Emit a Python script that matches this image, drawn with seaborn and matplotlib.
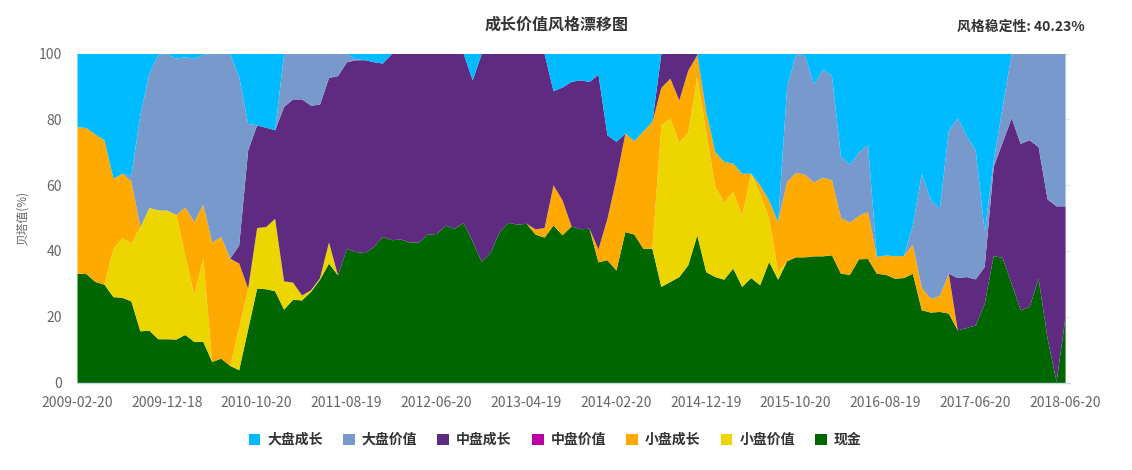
import matplotlib
matplotlib.use("Agg")
import matplotlib.pyplot as plt
import seaborn as sns
from matplotlib.patches import Patch

sns.set_theme(style="white")
plt.rcParams['font.family'] = ['Noto Sans CJK SC', 'DejaVu Sans']

# ---- data (percent, stacked bottom -> top) ----
tick_labels = ["2009-02-20", "2009-12-18", "2010-10-20", "2011-08-19", "2012-06-20",
               "2013-04-19", "2014-02-20", "2014-12-19", "2015-10-20", "2016-08-19",
               "2017-06-20", "2018-06-20"]

xianjin = [33.2, 33.1, 30.7, 29.9, 26.1, 25.9, 24.8, 15.7, 15.9, 13.3,
           13.3, 13.2, 14.6, 12.5, 12.5, 6.4, 7.4, 5.2, 3.9, 16.3,
           28.7, 28.5, 27.9, 22.3, 25.3, 25.1, 27.7, 31.4, 36.3, 32.7,
           40.8, 39.8, 39.5, 41.3, 44.4, 43.4, 43.6, 42.7, 42.7, 45.1,
           45.3, 47.8, 46.9, 48.6, 42.9, 36.8, 39.6, 45.9, 48.7, 48.1,
           48.4, 45.1, 44.2, 47.9, 44.9, 47.6, 46.7, 46.9, 36.7, 37.3,
           34.2, 45.9, 45.1, 40.8, 40.8, 29.2, 30.7, 32.2, 35.8, 44.9,
           33.7, 32.2, 31.4, 34.8, 29.2, 31.9, 29.7, 36.8, 31.4, 37.0,
           38.2, 38.2, 38.5, 38.5, 38.8, 33.2, 32.9, 37.6, 37.7, 33.2,
           32.9, 31.7, 31.9, 33.2, 22.1, 21.4, 21.6, 21.1, 16.0, 16.7,
           17.5, 24.1, 38.6, 38.0, 30.2, 22.1, 23.1, 31.7, 13.5, 0.3,
           20.1]

xiaopan_jiazhi = [0, 0, 0, 0, 14.7, 18.2, 17.6, 31.7, 37.3, 39.2,
                  39.1, 37.9, 24.2, 14.1, 25.3, 0, 0, 0, 13.0, 12.4,
                  18.4, 18.9, 22.0, 8.6, 5.2, 1.5, 0.5, 0.5, 6.4, 0,
                  0, 0, 0, 0, 0, 0, 0, 0, 0, 0,
                  0, 0, 0, 0, 0, 0, 0, 0, 0, 0,
                  0, 0, 0, 0, 0, 0, 0, 0, 0, 0,
                  0, 0, 0, 0, 0, 49.1, 49.6, 40.8, 40.3, 48.1,
                  42.6, 27.4, 23.4, 23.3, 21.8, 31.7, 27.8, 13.1, 2.3, 0,
                  0, 0, 0, 0, 0, 0, 0, 0, 0, 0,
                  0, 0, 0, 0, 0, 0, 0, 0, 0, 0,
                  0, 0, 0, 0, 0, 0, 0, 0, 0, 0,
                  0]

xiaopan_chengzhang = [44.6, 44.4, 44.8, 43.9, 21.3, 19.5, 18.9, 0, 0, 0,
                      0, 0, 14.5, 22.3, 16.4, 36.3, 37.0, 32.6, 19.4, 0,
                      0, 0, 0, 0, 0, 0, 0, 0, 0, 0,
                      0, 0, 0, 0, 0, 0, 0, 0, 0, 0,
                      0, 0, 0, 0, 0, 0, 0, 0, 0, 0,
                      0, 1.6, 2.9, 12.2, 10.6, 0, 0, 0, 3.9, 12.6,
                      27.9, 29.9, 28.4, 35.7, 38.5, 11.4, 12.2, 12.9, 18.9, 6.6,
                      6.1, 10.6, 12.4, 8.6, 12.6, 0, 2.6, 5.6, 15.2, 24.1,
                      25.7, 25.1, 22.4, 23.9, 22.8, 17.0, 15.8, 13.2, 14.3, 5.1,
                      5.9, 6.8, 6.7, 8.8, 6.8, 4.2, 4.8, 12.1, 0, 0,
                      0, 0, 0, 0, 0, 0, 0, 0, 0, 0,
                      0]

zhongpan_jiazhi = [0] * 111

zhongpan_chengzhang = [0, 0, 0, 0, 0, 0, 0, 0, 0, 0,
                       0, 0, 0, 0, 0, 0, 0, 0, 5.5, 42.0,
                       31.2, 30.2, 26.9, 53.0, 55.7, 59.6, 56.1, 52.7, 50.0, 60.6,
                       56.7, 58.3, 58.6, 56.2, 52.7, 56.6, 56.4, 57.3, 57.3, 54.9,
                       54.7, 52.2, 53.1, 51.4, 49.1, 63.2, 60.4, 54.1, 51.3, 51.9,
                       51.6, 53.3, 52.9, 28.6, 34.3, 43.9, 45.3, 44.6, 53.1, 25.4,
                       11.2, 0, 0, 0, 0, 10.3, 7.5, 14.1, 5.0, 0.4,
                       0, 0, 0, 0, 0, 0, 0, 0, 0, 0,
                       0, 0, 0, 0, 0, 0, 0, 0, 0, 0,
                       0, 0, 0, 0, 0, 0, 0, 0, 15.9, 15.5,
                       14.0, 11.2, 27.1, 35.1, 50.3, 50.6, 50.7, 40.0, 42.3, 53.4,
                       33.6]

dapan_jiazhi = [0, 0, 0, 0, 0, 0, 1.8, 34.0, 40.8, 47.3,
                47.6, 47.5, 45.7, 49.6, 45.6, 57.3, 55.6, 62.2, 51.2, 8.1,
                0, 0, 0, 16.1, 13.8, 13.8, 15.7, 15.4, 7.3, 6.7,
                2.5, 0.3, 0, 0, 0, 0, 0, 0, 0, 0,
                0, 0, 0, 0, 0, 0, 0, 0, 0, 0,
                0, 0, 0, 0, 0, 0, 0, 0, 0, 0,
                0, 0, 0, 0, 0, 0, 0, 0, 0, 0,
                0, 0, 0, 0, 0, 0, 0, 0, 0, 28.9,
                36.1, 36.3, 29.8, 32.9, 31.7, 18.5, 17.7, 19.2, 20.4, 0,
                0, 0, 0, 5.9, 34.7, 29.9, 26.6, 43.3, 48.6, 42.9,
                39.2, 10.6, 1.8, 10.9, 19.5, 27.3, 26.2, 28.3, 44.2, 46.3,
                46.3]

dapan_chengzhang = [22.2, 22.5, 24.5, 26.2, 37.9, 36.4, 36.9, 18.6, 6.0, 0.2,
                    0, 1.4, 1.0, 1.5, 0.2, 0, 0, 0, 7.0, 21.2,
                    21.7, 22.4, 23.2, 0, 0, 0, 0, 0, 0, 0,
                    0, 1.6, 1.9, 2.5, 2.9, 0, 0, 0, 0, 0,
                    0, 0, 0, 0, 8.0, 0, 0, 0, 0, 0,
                    0, 0, 0, 11.3, 10.2, 8.5, 8.0, 8.5, 6.3, 24.7,
                    26.7, 24.2, 26.5, 23.5, 20.7, 0, 0, 0, 0, 0,
                    17.6, 29.8, 32.8, 33.3, 36.4, 36.4, 39.9, 44.5, 51.1, 10.0,
                    0, 0.4, 9.3, 4.7, 6.7, 31.3, 33.6, 30.0, 27.6, 61.7,
                    61.2, 61.5, 61.4, 52.1, 36.4, 44.5, 47.0, 23.5, 19.5, 24.9,
                    29.3, 54.1, 32.5, 16.0, 0, 0, 0, 0, 0, 0,
                    0]

legend_labels = ["大盘成长", "大盘价值", "中盘成长", "中盘价值", "小盘成长", "小盘价值", "现金"]
legend_colors = ["#00BBFF", "#7799CC", "#5F2B80", "#BB00AA", "#FFAA00", "#EDD500", "#006600"]

# ---- figure ----
fig = plt.figure(figsize=(11.32, 4.70), dpi=100)
W, H = 1132, 470
ax = fig.add_axes([77 / W, 1 - 382.5 / H, (1070 - 77) / W, (382.5 - 53.5) / H])

n = len(xianjin)
x = list(range(n))
stack = [xianjin, xiaopan_jiazhi, xiaopan_chengzhang, zhongpan_jiazhi,
         zhongpan_chengzhang, dapan_jiazhi, dapan_chengzhang]
stack_colors = ["#006600", "#EDD500", "#FFAA00", "#BB00AA", "#5F2B80", "#7799CC", "#00BBFF"]
ax.stackplot(x, *stack, colors=stack_colors, linewidth=0, antialiased=True)

ax.set_xlim(0, (n - 1) + 0.55)
ax.set_ylim(0, 100)
ax.set_yticks(range(0, 101, 20))
ax.set_xticks(range(0, n, 10))
ax.set_xticklabels(tick_labels)

ax.yaxis.grid(True, color="#e6e6e6", linewidth=1)
ax.xaxis.grid(False)
ax.set_axisbelow(True)
for s in ["top", "right", "left"]:
    ax.spines[s].set_visible(False)
ax.spines["bottom"].set_color("#ccd6eb")
ax.spines["bottom"].set_linewidth(1)

ax.tick_params(axis="x", direction="out", length=7, width=1, color="#ccd6eb",
               labelcolor="#666666", labelsize=10, pad=3)
ax.tick_params(axis="y", length=0, labelcolor="#666666", labelsize=10, pad=11)

fig.text(557 / W, 1 - 25 / H, "成长价值风格漂移图", ha="center", va="center",
         fontsize=11.5, fontweight="bold", color="#333333")
fig.text(1085 / W, 1 - 27 / H, "风格稳定性: 40.23%", ha="right", va="center",
         fontsize=10, fontweight="bold", color="#333333")
fig.text(22 / W, 1 - 218 / H, "贝塔值(%)", ha="center", va="center", rotation=90,
         fontsize=8.5, color="#666666")

handles = [Patch(facecolor=c, edgecolor="none") for c in legend_colors]
leg = fig.legend(handles, legend_labels, loc="center", bbox_to_anchor=(555 / W, 1 - 440 / H),
                 ncol=7, frameon=False, fontsize=10, handlelength=0.85, handleheight=0.85,
                 handletextpad=0.5, columnspacing=1.45)
for t in leg.get_texts():
    t.set_color("#333333")
    t.set_fontweight("bold")

fig.savefig("out.png", dpi=100)
